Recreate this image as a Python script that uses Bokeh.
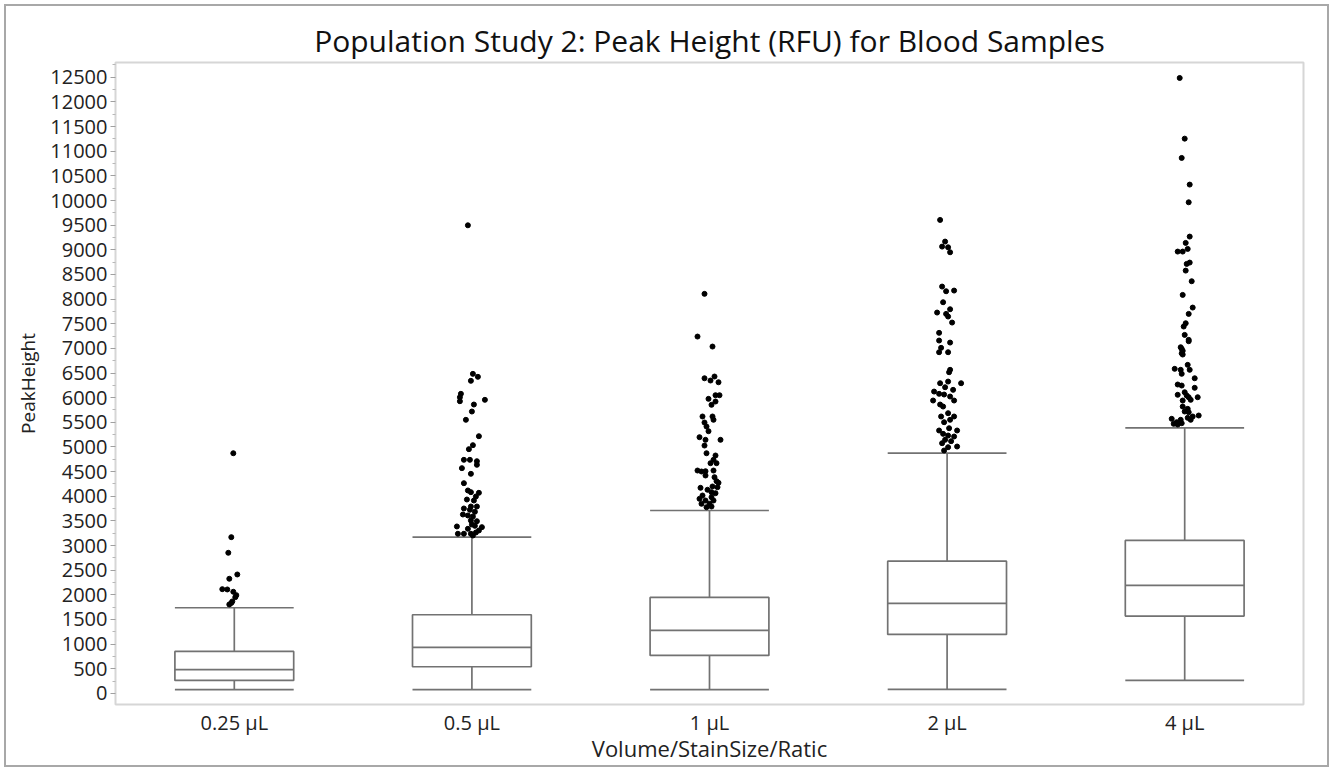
from bokeh.plotting import figure
from bokeh.models import Range1d, FixedTicker, ColumnDataSource, InlineStyleSheet
from bokeh.embed import file_html
from bokeh.resources import INLINE

categories = ["0.25 μL", "0.5 μL", "1 μL", "2 μL", "4 μL"]
whisker_low = [75, 75, 75, 80, 264]
q1 = [264, 541, 771, 1196, 1568]
median = [481, 933, 1278, 1825, 2190]
q3 = [852, 1596, 1947, 2683, 3103]
whisker_high = [1738, 3170, 3711, 4873, 5388]

# outliers per category, with horizontal jitter (px)
out_025 = [4873, 3170, 2853, 2413, 2326, 2115, 2109, 2062, 1994, 1953, 1866, 1835, 1805]
jit_025 = [-1, -3, -6, 3, -5, -12, -7, -1, 2, 1, -2, -3, -5]
out_05 = [9497, 6483, 6423, 6342, 6078, 6009, 5928, 5956, 5861, 5719, 5551, 5218, 5036, 4955,
          4739, 4739, 4711, 4638, 4570, 4455, 4265, 4117, 4083, 4070, 3995, 3934, 3914, 3792,
          3792, 3752, 3725, 3685, 3630, 3610, 3590, 3508, 3494, 3427, 3400, 3387, 3373, 3340,
          3306, 3239, 3239, 3239, 3265, 3204]
jit_05 = [-4, 1, 6, -1, -11, -12, -12, 13, 2, 0, -6, 7, 1, -3, -8, -2, 5, 5, -10, -1, -8, -4,
          -1, 7, 4, -5, 2, -1, 5, -8, -2, 3, -9, -4, 1, -1, 5, 0, 3, -15, 10, -4, 7, -14, -8, -1,
          4, 1]
out_1 = [8106, 7240, 7037, 6394, 6348, 6429, 6313, 5976, 6050, 6050, 5922, 5855, 5618, 5618,
         5551, 5496, 5415, 5320, 5198, 5145, 5145, 5029, 4873, 4827, 4739, 4671, 4671, 4522,
         4502, 4508, 4522, 4421, 4387, 4306, 4273, 4198, 4184, 4171, 4131, 4083, 4062, 4015,
         3981, 3948, 3914, 3914, 3847, 3847, 3778, 3792]
jit_1 = [-5, -12, 3, -5, 1, 5, 9, -1, 6, 10, 6, 2, -7, 3, 4, -5, -3, -1, -10, -4, 11, -5, -3,
         6, 4, 1, 7, -12, -8, -4, 4, -4, 5, 7, 9, 3, 8, -9, -2, 2, 6, -7, 2, -10, -4, 4, -8, 0,
         -3, 2]
out_2 = [9606, 9167, 9065, 9051, 8950, 8254, 8159, 8173, 7936, 7794, 7727, 7700, 7646, 7524,
         7315, 7159, 7118, 7011, 6922, 6922, 6565, 6516, 6293, 6327, 6293, 6212, 6159, 6124,
         6078, 6064, 6023, 5942, 5942, 5861, 5820, 5685, 5618, 5618, 5551, 5502, 5334, 5380,
         5334, 5266, 5232, 5212, 5145, 5117, 5076, 5009, 4995, 4928]
jit_2 = [-7, -2, -5, 1, 3, -5, -1, 7, -4, 3, -10, -1, 1, 5, -8, -8, 3, -6, -8, 1, 3, 2, -7, 1,
         14, -2, 6, -13, -8, -3, 3, -14, 7, -7, -4, 1, -6, 7, 3, -3, -8, 2, 10, -4, 1, 7, -2, 4,
         -5, 10, 1, -3]
out_4 = [12486, 11255, 10864, 10323, 9964, 9268, 9140, 9018, 8964, 8964, 8741, 8714, 8578, 8362,
         8085, 7828, 7700, 7510, 7443, 7274, 7173, 7145, 7023, 6990, 6950, 6900, 6875, 6666,
         6585, 6565, 6565, 6484, 6394, 6267, 6246, 6200, 6110, 6058, 6044, 6009, 6009, 5942,
         5956, 5820, 5773, 5719, 5705, 5638, 5618, 5591, 5571, 5551, 5551, 5502, 5469, 5455,
         5482]
jit_4 = [-5, 0, -3, 5, 4, 5, 1, 3, -7, -2, 5, 2, 1, 7, -2, 8, 4, 1, -1, 0, 4, 4, -4, -3, -2, -3,
         -2, 3, -10, -4, 5, -3, 10, -7, -3, 10, 0, -7, 2, 4, 13, -2, 6, -2, 3, 0, 4, 14, 8, 3,
         -13, -4, 6, -8, -11, -7, -3]

outliers = [out_025, out_05, out_1, out_2, out_4]
jitters = [jit_025, jit_05, jit_1, jit_2, jit_4]

CAT_PX = 237.6  # one category width in screen pixels

centers = [i + 0.5 for i in range(len(categories))]
box_w = 0.5

p = figure(width=1333, height=771, output_backend="svg", toolbar_location=None,
           x_range=Range1d(0, 5), y_range=Range1d(-225, 12800),
           min_border_left=115, min_border_right=30, min_border_top=62, min_border_bottom=67)

p.stylesheets = [InlineStyleSheet(css=":host { outline: 2px solid #a8a8a8; outline-offset: -6px; background-color: white; }")]

p.title.text = "Population Study 2: Peak Height (RFU) for Blood Samples"
p.title.align = "center"
p.title.offset = 10
p.title.text_font = "Open Sans"
p.title.text_font_size = "30px"
p.title.text_font_style = "normal"
p.title.text_color = "#111111"
p.title.standoff = 4

p.grid.visible = False
p.outline_line_color = "#d6d6d6"
p.outline_line_width = 2
p.background_fill_color = "white"
p.border_fill_alpha = 0

src = ColumnDataSource(dict(x=centers, low=whisker_low, q1=q1, med=median, q3=q3, high=whisker_high,
                            cl=[c - box_w / 2 for c in centers], cr=[c + box_w / 2 for c in centers]))
box_col = "#727272"
lw = 1.7
p.segment(x0="x", y0="q3", x1="x", y1="high", source=src, line_color=box_col, line_width=lw)
p.segment(x0="x", y0="low", x1="x", y1="q1", source=src, line_color=box_col, line_width=lw)
p.vbar(x="x", width=box_w, bottom="q1", top="q3", source=src, fill_color="white",
       line_color=box_col, line_width=lw)
p.segment(x0="cl", y0="med", x1="cr", y1="med", source=src, line_color=box_col, line_width=lw)
p.segment(x0="cl", y0="high", x1="cr", y1="high", source=src, line_color=box_col, line_width=lw)
p.segment(x0="cl", y0="low", x1="cr", y1="low", source=src, line_color=box_col, line_width=lw)

ox, oy = [], []
for i, (vals, jit) in enumerate(zip(outliers, jitters)):
    for v, j in zip(vals, jit):
        ox.append(centers[i] + j / CAT_PX)
        oy.append(v)
p.scatter(ox, oy, size=5, color="black", line_color="black")

yax = p.yaxis[0]
yax.ticker = FixedTicker(ticks=list(range(0, 12501, 500)), minor_ticks=list(range(250, 12800, 500)))
yax.axis_label = "PeakHeight"
yax.axis_label_text_font = "Open Sans"
yax.axis_label_text_font_size = "19px"
yax.axis_label_text_font_style = "normal"
yax.axis_label_text_color = "#222222"
yax.axis_label_standoff = 6
yax.major_label_text_font = "Open Sans"
yax.major_label_text_font_size = "20px"
yax.major_label_text_color = "#222222"
yax.major_label_standoff = 3
yax.axis_line_color = "#d6d6d6"
yax.major_tick_line_color = "#a0a0a0"
yax.minor_tick_line_color = "#b8b8b8"
yax.major_tick_out = 5
yax.major_tick_in = 0
yax.minor_tick_out = 3
yax.minor_tick_in = 0

xax = p.xaxis[0]
xax.ticker = FixedTicker(ticks=centers)
xax.major_label_overrides = {c: lab for c, lab in zip(centers, categories)}
xax.axis_label = "Volume/StainSize/Ratic"
xax.axis_label_text_font = "Open Sans"
xax.axis_label_text_font_size = "22px"
xax.axis_label_text_font_style = "normal"
xax.axis_label_text_color = "#222222"
xax.axis_label_standoff = -6
xax.major_label_text_font = "Open Sans"
xax.major_label_text_font_size = "20px"
xax.major_label_text_color = "#222222"
xax.major_label_standoff = 4
xax.axis_line_color = "#d6d6d6"
xax.major_tick_line_color = None
xax.minor_tick_line_color = None
xax.major_tick_out = 0
xax.major_tick_in = 0
xax.minor_tick_out = 0
xax.minor_tick_in = 0

open("out.html", "w").write(file_html(p, INLINE))
